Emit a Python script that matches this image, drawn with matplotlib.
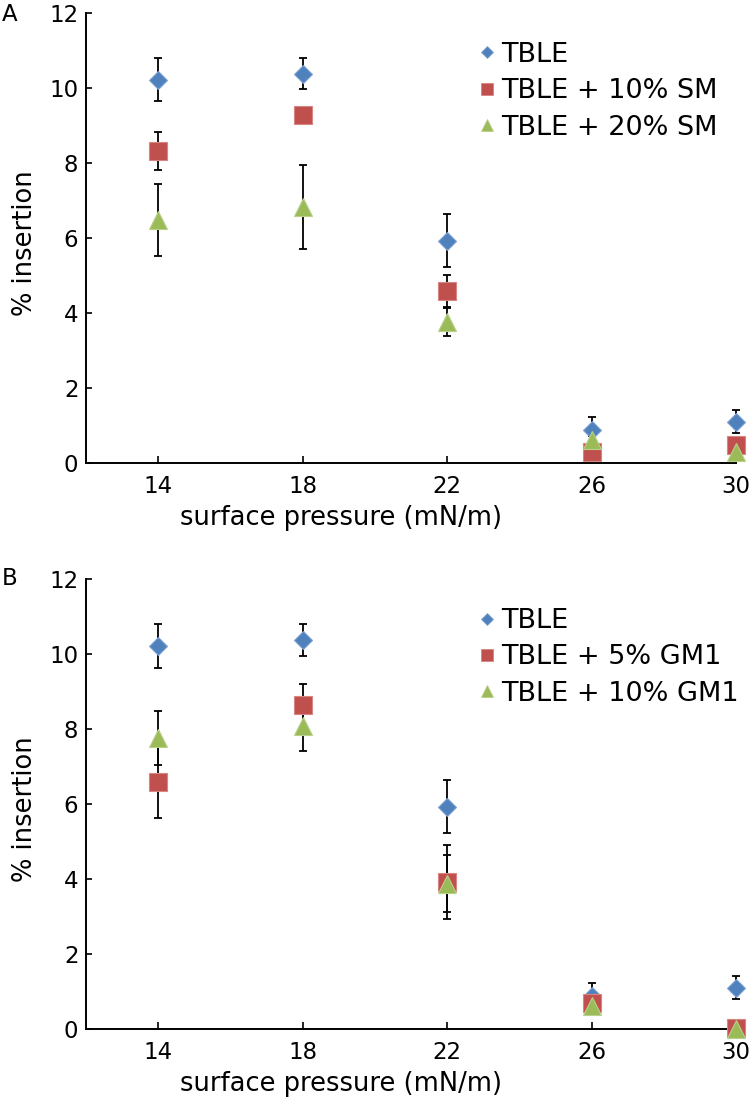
import matplotlib
matplotlib.use("Agg")
import matplotlib.pyplot as plt
from matplotlib.lines import Line2D

# surface pressure (mN/m)
pressure = [14, 18, 22, 26, 30]

# panel A: sphingomyelin
tble = [10.22, 10.38, 5.93, 0.88, 1.10]
tble_err = [0.58, 0.42, 0.70, 0.35, 0.30]
sm10 = [8.32, 9.28, 4.58, 0.30, 0.48]
sm10_err = [0.50, 0.12, 0.42, 0.10, 0.10]
sm20 = [6.48, 6.82, 3.76, 0.62, 0.30]
sm20_err = [0.95, 1.12, 0.38, 0.10, 0.10]

# panel B: GM1
gm5 = [6.58, 8.65, 3.92, 0.68, 0.02]
gm5_err = [0.96, 0.56, 1.00, 0.15, 0.05]
gm10 = [7.75, 8.07, 3.88, 0.62, 0.00]
gm10_err = [0.72, 0.66, 0.75, 0.10, 0.05]

labels_a = ["TBLE", "TBLE + 10% SM", "TBLE + 20% SM"]
labels_b = ["TBLE", "TBLE + 5% GM1", "TBLE + 10% GM1"]

BLUE = "#4F81BD"
RED = "#C0504D"
GREEN = "#9BBB59"
styles = [("D", 9.3, BLUE, "#7FA3D1"), ("s", 12.5, RED, "#D98583"), ("^", 13.0, GREEN, "#B9D08A")]


def draw_panel(ax, series, errors, labels):
    for y, err in zip(series, errors):
        ax.errorbar(pressure, y, yerr=err, fmt="none", ecolor="black",
                    elinewidth=1.3, capsize=2.8, capthick=1.3, zorder=2, clip_on=False)
    for (marker, ms, color, edge), y in zip(styles, series):
        ax.plot(pressure, y, linestyle="none", marker=marker, markersize=ms,
                color=color, markeredgecolor=edge, markeredgewidth=0.8,
                zorder=3, clip_on=False)

    ax.set_xlim(12, 30)
    ax.set_ylim(0, 12)
    ax.set_xticks(pressure)
    ax.set_yticks(range(0, 13, 2))
    for side in ("top", "right"):
        ax.spines[side].set_visible(False)
    for side in ("left", "bottom"):
        ax.spines[side].set_linewidth(1.4)
    ax.tick_params(axis="x", direction="in", length=5, width=1.2, labelsize=16.5, pad=8.5)
    ax.tick_params(axis="y", direction="in", length=4.5, width=1.2, labelsize=16.5, pad=5.5)

    ax.set_ylabel("% insertion", fontsize=18.5)
    ax.yaxis.set_label_coords(-0.074, 0.488)
    ax.set_xlabel("surface pressure (mN/m)", fontsize=18.5, va="baseline")
    ax.xaxis.set_label_coords(0.392, -0.1378)

    handles = [Line2D([], [], linestyle="none", marker=m, markersize=ms * 0.7,
                      color=c, markeredgecolor=e, markeredgewidth=0.6)
               for m, ms, c, e in styles]
    ax.legend(handles, labels, loc="upper left", bbox_to_anchor=(0.607, 0.9356),
              frameon=False, fontsize=19.5, handlelength=0.5, handletextpad=0.25,
              labelspacing=0.38, borderpad=0, borderaxespad=0)


fig = plt.figure(figsize=(7.5, 11.01), dpi=100)
ax_a = fig.add_axes([0.1147, 0.5795, 0.8667, 0.4087])
ax_b = fig.add_axes([0.1147, 0.0654, 0.8667, 0.4087])

draw_panel(ax_a, [tble, sm10, sm20], [tble_err, sm10_err, sm20_err], labels_a)
draw_panel(ax_b, [tble, gm5, gm10], [tble_err, gm5_err, gm10_err], labels_b)

fig.text(2 / 750, 1 - 3 / 1101, "A", fontsize=16.5, ha="left", va="top")
fig.text(2 / 750, 1 - 567 / 1101, "B", fontsize=16.5, ha="left", va="top")

fig.savefig("out.png", dpi=100)
